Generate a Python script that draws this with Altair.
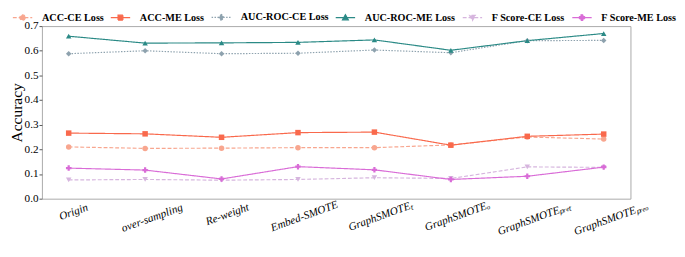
import altair as alt
import pandas as pd

methods = ["Origin", "over-sampling", "Re-weight", "Embed-SMOTE",
           "GraphSMOTE_T", "GraphSMOTE_O", "GraphSMOTE_preT", "GraphSMOTE_preO"]
method_labels = ["Origin", "over-sampling", "Re-weight", "Embed-SMOTE",
                 "GraphSMOTEₜ", "GraphSMOTEₒ", "GraphSMOTEₚᵣₑₜ", "GraphSMOTEₚᵣₑₒ"]

series = ["ACC-CE Loss", "ACC-ME Loss", "AUC-ROC-CE Loss",
          "AUC-ROC-ME Loss", "F Score-CE Loss", "F Score-ME Loss"]

acc_ce = [0.210, 0.204, 0.205, 0.207, 0.207, 0.218, 0.250, 0.242]
acc_me = [0.266, 0.263, 0.249, 0.268, 0.270, 0.217, 0.253, 0.262]
auc_ce = [0.588, 0.600, 0.588, 0.590, 0.603, 0.592, 0.641, 0.642]
auc_me = [0.659, 0.631, 0.632, 0.634, 0.644, 0.602, 0.641, 0.670]
f_ce = [0.076, 0.078, 0.075, 0.078, 0.085, 0.082, 0.129, 0.127]
f_me = [0.124, 0.116, 0.080, 0.130, 0.117, 0.078, 0.091, 0.128]

y_ticks = [0.0, 0.1, 0.2, 0.3, 0.4, 0.5, 0.6, 0.7]

colors = ["#f8a68f", "#f9694c", "#8ea2ae", "#2b8a86", "#d6b5de", "#d96cd7"]
dashes = [[4, 2], [1, 0], [1.5, 1.5], [1, 0], [4, 2], [1, 0]]
shapes = ["circle", "square", "diamond", "triangle-up", "triangle-down", "cross"]
marker_paths = [
    "M0.55,0A0.55,0.55,0,1,1,-0.55,0A0.55,0.55,0,1,1,0.55,0Z",
    "M-0.5,-0.5H0.5V0.5H-0.5Z",
    "M0,-0.7L0.5,0L0,0.7L-0.5,0Z",
    "M0,-0.6L0.6,0.45H-0.6Z",
    "M0,0.6L0.6,-0.45H-0.6Z",
    "M-0.2,-0.6H0.2V-0.2H0.6V0.2H0.2V0.6H-0.2V0.2H-0.6V-0.2H-0.2Z",
]
legend_paths = ["M-2,0H2" + p for p in marker_paths]

W, H = 607, 178
FONT = "Liberation Serif"

all_vals = [acc_ce, acc_me, auc_ce, auc_me, f_ce, f_me]
rows = []
for s, vals in zip(series, all_vals):
    for m, v in zip(methods, vals):
        rows.append({"method": m, "series": s, "value": v})
df = pd.DataFrame(rows)
df_labels = pd.DataFrame({"method": methods, "label": method_labels})
df_series = pd.DataFrame({"series": series})

x_scale = alt.Scale(type="point", padding=0.35)
x_enc = alt.X("method:N", sort=methods, scale=x_scale,
              axis=alt.Axis(labels=False, title=None, domain=False, grid=False,
                            tickSize=3, tickColor="#555555"))
y_enc = alt.Y("value:Q", scale=alt.Scale(domain=[0, 0.7], nice=False, zero=True),
              axis=alt.Axis(values=y_ticks, format=".1f", grid=False, domain=False,
                            tickSize=3, tickColor="#555555",
                            labelFont=FONT, labelFontSize=11.5, labelColor="black",
                            labelPadding=1,
                            title="Accuracy", titleFont=FONT, titleFontSize=16,
                            titleFontWeight="normal", titleColor="black",
                            titlePadding=0))

base = alt.Chart(df)

leg = alt.Legend(title=None, orient="none", legendX=-26, legendY=-15,
                 direction="horizontal", columns=6, symbolSize=100,
                 symbolStrokeWidth=1.2, symbolOpacity=1, padding=0,
                 labelFont=FONT, labelFontWeight="bold", labelFontSize=10.5,
                 labelColor="black", labelOffset=14, columnPadding=4)

legend_layer = alt.Chart(df_series).mark_point(
    filled=True, size=100, opacity=0
).encode(
    x=alt.value(0), y=alt.value(0),
    color=alt.Color("series:N", scale=alt.Scale(domain=series, range=colors), legend=leg),
    stroke=alt.Stroke("series:N", scale=alt.Scale(domain=series, range=colors), legend=leg),
    shape=alt.Shape("series:N", scale=alt.Scale(domain=series, range=legend_paths), legend=leg),
    strokeDash=alt.StrokeDash("series:N", scale=alt.Scale(domain=series, range=dashes), legend=leg),
)

line_layers = []
point_layers = []
for s, col, dash, shp in zip(series, colors, dashes, shapes):
    sub = base.transform_filter(alt.datum.series == s)
    line_layers.append(
        sub.mark_line(strokeWidth=1.2, color=col, strokeDash=dash)
        .encode(x=x_enc, y=y_enc)
    )
    point_layers.append(
        sub.mark_point(filled=True, size=32, shape=shp, color=col, opacity=1)
        .encode(x=x_enc, y=y_enc)
    )

labels = alt.Chart(df_labels).mark_text(
    angle=340, align="center", baseline="middle", font=FONT,
    fontStyle="italic", fontSize=11.5, color="black",
    dy=alt.expr("4 + (length(datum.label) * 5.4 * 0.342 + 11) / 2"),
).encode(
    x=alt.X("method:N", sort=methods, scale=x_scale, axis=None),
    y=alt.value(H),
    text="label:N",
)

chart = alt.layer(*line_layers, *point_layers, labels, legend_layer).properties(
    width=W, height=H,
    padding={"left": 0, "top": 0, "right": 0, "bottom": 0},
).configure_view(stroke="#a8a8a8", strokeWidth=1)

chart.save("out.html", embed_options={"renderer": "svg", "actions": False})
